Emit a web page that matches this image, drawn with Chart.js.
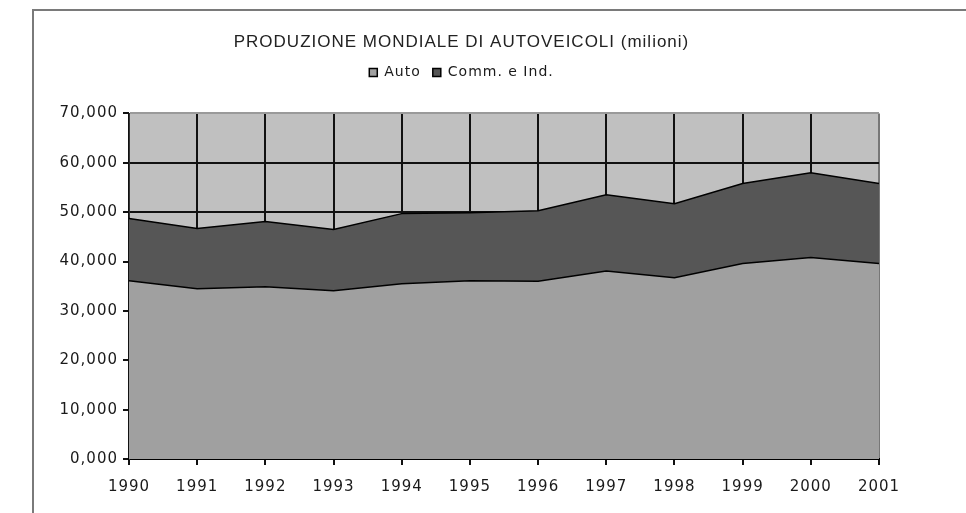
<!DOCTYPE html>
<html><head><meta charset="utf-8">
<script src="https://cdn.jsdelivr.net/npm/chart.js@4"></script>
<style>
html,body{margin:0;padding:0;background:#fff;overflow:hidden}
#frame{position:absolute;left:32px;top:9px;width:1000px;height:600px;border-left:2px solid #7a7a7a;border-top:2px solid #7a7a7a;box-sizing:border-box}
#wrap{position:absolute;left:0;top:0;width:966px;height:513px}
</style></head><body>
<div id="frame"></div>
<div id="wrap"><canvas id="c" width="966" height="513"></canvas></div>
<script>
const years = ['1990','1991','1992','1993','1994','1995','1996','1997','1998','1999','2000','2001'];
const auto = [36.1, 34.5, 34.9, 34.1, 35.5, 36.1, 36.0, 38.1, 36.7, 39.6, 40.8, 39.6];
const commInd = [12.6, 12.2, 13.2, 12.4, 14.2, 13.8, 14.3, 15.4, 15.0, 16.2, 17.2, 16.2];
const yTickValues = [0, 10, 20, 30, 40, 50, 60, 70];
const titleText = 'PRODUZIONE MONDIALE DI AUTOVEICOLI (milioni)';
const seriesNames = ['Auto', 'Comm. e Ind.'];

const spacing = {
  id: 'spacing',
  beforeUpdate(chart) { chart.ctx.letterSpacing = '1px'; },
  beforeDraw(chart) {
    chart.ctx.letterSpacing = '1px';
    const a = chart.chartArea, ctx = chart.ctx;
    ctx.save();
    ctx.fillStyle = '#c0c0c0';
    ctx.fillRect(a.left, a.top, a.right - a.left, a.bottom - a.top);
    ctx.restore();
  },
  afterInit(chart) {
    const lg = chart.legend;
    if (lg) {
      const orig = lg.fit;
      lg.fit = function () { orig.call(this); this.height += 24; };
    }
  }
};

new Chart(document.getElementById('c'), {
  type: 'line',
  data: {
    labels: years,
    datasets: [
      { label: seriesNames[0], data: auto, fill: 'origin', backgroundColor: '#a0a0a0', borderColor: '#000', borderWidth: 1.5, pointRadius: 0, tension: 0 },
      { label: seriesNames[1], data: commInd, fill: '-1', backgroundColor: '#565656', borderColor: '#000', borderWidth: 1.5, pointRadius: 0, tension: 0 }
    ]
  },
  options: {
    responsive: false,
    animation: false,
    layout: { padding: { left: 44, right: 87, top: 0, bottom: 0 } },
    plugins: {
      title: {
        display: true, text: titleText, color: '#222',
        font: { family: "'Liberation Sans', Arial, sans-serif", size: 17, weight: 'normal' },
        padding: { top: 32, bottom: 1 }
      },
      legend: {
        display: true,
        labels: {
          boxWidth: 8, boxHeight: 8, padding: 12, color: '#1a1a1a',
          font: { family: "'DejaVu Sans', sans-serif", size: 14 }
        }
      },
      tooltip: { enabled: false }
    },
    scales: {
      x: {
        offset: false,
        afterFit(s) { s.height = 54; },
        grid: {
          color: (c) => c.index === years.length - 1 ? '#777' : '#111',
          lineWidth: 2, tickLength: 6, tickColor: '#111', drawOnChartArea: true
        },
        border: { display: true, color: '#000', width: 2 },
        ticks: { color: '#1a1a1a', padding: 13, maxRotation: 0, font: { family: "'DejaVu Sans', sans-serif", size: 15 } }
      },
      y: {
        stacked: true, min: 0, max: 70,
        afterFit(s) { s.width = 85; },
        afterBuildTicks(s) { s.ticks = yTickValues.map(v => ({ value: v })); },
        grid: {
          color: (c) => c.tick && c.tick.value === 70 ? '#9a9a9a' : '#111',
          lineWidth: 2, tickLength: 6, tickColor: '#111'
        },
        border: { display: true, color: '#333', width: 1 },
        ticks: {
          color: '#1a1a1a', padding: 5,
          font: { family: "'DejaVu Sans', sans-serif", size: 15 },
          callback: (v) => Number(v).toFixed(3).replace('.', ',')
        }
      }
    }
  },
  plugins: [spacing]
});
</script>
</body></html>
